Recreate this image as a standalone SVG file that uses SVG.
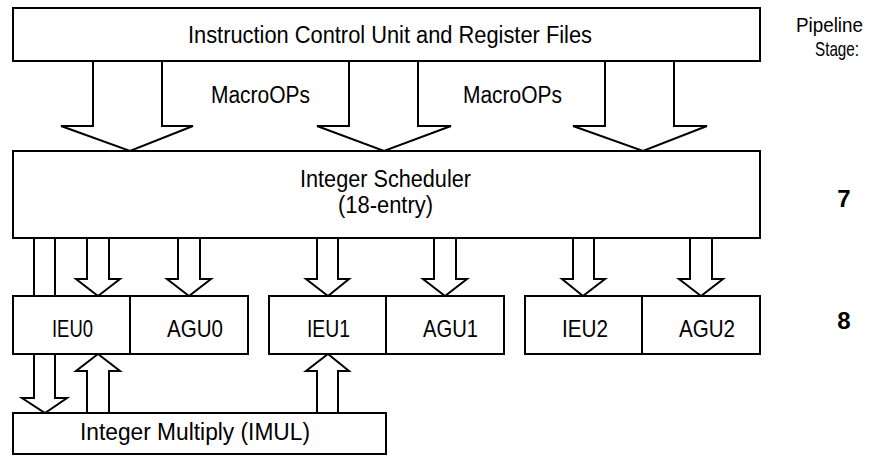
<svg xmlns="http://www.w3.org/2000/svg" width="885" height="456" viewBox="0 0 885 456">
<style>
.box{fill:#fff;stroke:#000;stroke-width:2}
.arr{fill:#fff;stroke:#000;stroke-width:2;stroke-linejoin:miter}
.ln{fill:none;stroke:#000;stroke-width:2}
text{font-family:"Liberation Sans Narrow","Liberation Sans",Arial,sans-serif;font-size:23px;fill:#000;text-anchor:middle}
.lbl{font-size:24px}
.hdr{font-size:21px}
.stg{font-weight:900;font-size:24px}
</style>
<rect width="885" height="456" fill="#fff"/>
<g id="connectors">
  <path class="arr" d="M93 61 V126 H61 L130 151 L193 126 H162 V61"/>
  <path class="arr" d="M349 61 V126 H317 L384 151 L451 126 H418 V61"/>
  <path class="arr" d="M605 61 V126 H573 L643 151 L707 126 H674 V61"/>
  <path class="ln" d="M34 238 V296 M55 238 V296"/>
  <path class="arr" d="M87 238 V279 H76 L98 296 L120 279 H109 V238"/>
  <path class="arr" d="M178 238 V279 H167 L189 296 L211 279 H200 V238"/>
  <path class="arr" d="M317 238 V279 H306 L328 296 L349 279 H338 V238"/>
  <path class="arr" d="M434 238 V279 H423 L445 296 L467 279 H456 V238"/>
  <path class="arr" d="M573 238 V279 H562 L583 296 L605 279 H594 V238"/>
  <path class="arr" d="M690 238 V279 H679 L701 296 L723 279 H712 V238"/>
  <path class="arr" d="M34 354 V398 H22 L45 413 L67 398 H55 V354"/>
  <path class="arr" d="M87 413 V371 H76 L98 354 L120 371 H109 V413"/>
  <path class="arr" d="M317 413 V371 H306 L328 354 L349 371 H338 V413"/>
</g>
<g id="icu">
  <rect class="box" x="13" y="8" width="747" height="53"/>
  <text x="390" y="43" textLength="404" lengthAdjust="spacingAndGlyphs">Instruction Control Unit and Register Files</text>
</g>
<g id="macroops-labels">
  <text x="260.5" y="103" textLength="99" lengthAdjust="spacingAndGlyphs">MacroOPs</text>
  <text x="512.5" y="103" textLength="99" lengthAdjust="spacingAndGlyphs">MacroOPs</text>
</g>
<g id="scheduler">
  <rect class="box" x="13" y="151" width="747" height="87"/>
  <text x="385.5" y="187" textLength="171" lengthAdjust="spacingAndGlyphs">Integer Scheduler</text>
  <text x="385.5" y="213" textLength="95" lengthAdjust="spacingAndGlyphs">(18-entry)</text>
</g>
<g id="unit0">
  <rect class="box" x="13" y="296" width="235" height="58"/>
  <line class="ln" x1="130" y1="296" x2="130" y2="354"/>
  <text class="lbl" x="72.5" y="337" textLength="41" lengthAdjust="spacingAndGlyphs">IEU0</text>
  <text class="lbl" x="195" y="337" textLength="56" lengthAdjust="spacingAndGlyphs">AGU0</text>
</g>
<g id="unit1">
  <rect class="box" x="269" y="296" width="235" height="58"/>
  <line class="ln" x1="386" y1="296" x2="386" y2="354"/>
  <text class="lbl" x="328.5" y="337" textLength="43" lengthAdjust="spacingAndGlyphs">IEU1</text>
  <text class="lbl" x="450.5" y="337" textLength="55" lengthAdjust="spacingAndGlyphs">AGU1</text>
</g>
<g id="unit2">
  <rect class="box" x="525" y="296" width="235" height="58"/>
  <line class="ln" x1="642" y1="296" x2="642" y2="354"/>
  <text class="lbl" x="585" y="337" textLength="46" lengthAdjust="spacingAndGlyphs">IEU2</text>
  <text class="lbl" x="707" y="337" textLength="56" lengthAdjust="spacingAndGlyphs">AGU2</text>
</g>
<g id="imul">
  <rect class="box" x="13" y="413" width="373" height="41"/>
  <text x="195" y="440" textLength="230" lengthAdjust="spacingAndGlyphs">Integer Multiply (IMUL)</text>
</g>
<g id="stages">
  <text class="hdr" x="829.5" y="32" textLength="67" lengthAdjust="spacingAndGlyphs">Pipeline</text>
  <text class="hdr" x="837" y="56" textLength="44" lengthAdjust="spacingAndGlyphs">Stage:</text>
  <text class="stg" x="844" y="207">7</text>
  <text class="stg" x="844" y="329">8</text>
</g>
</svg>
